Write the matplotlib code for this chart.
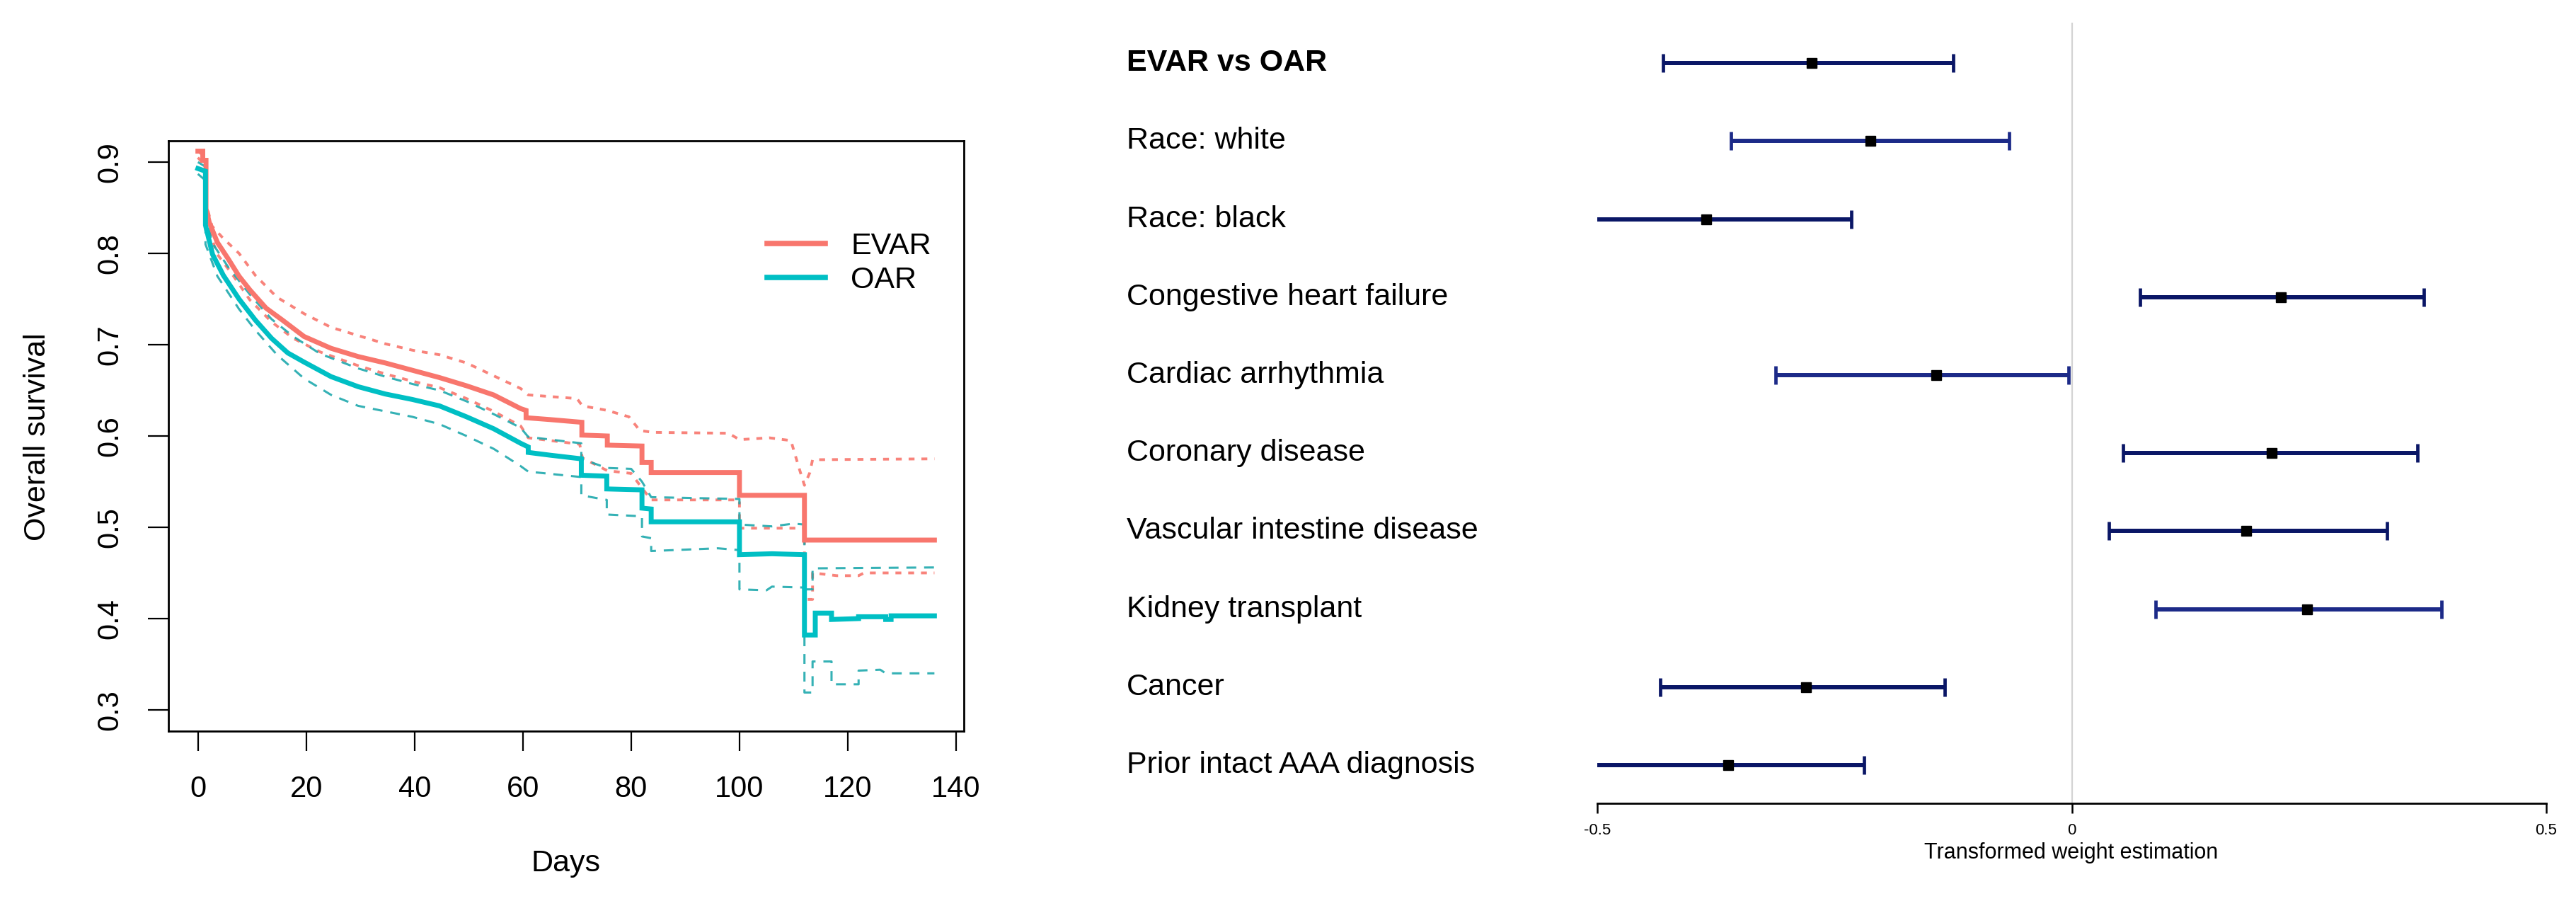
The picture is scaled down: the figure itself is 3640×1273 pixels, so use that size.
import matplotlib
matplotlib.use('Agg')
import matplotlib.pyplot as plt
from matplotlib.transforms import blended_transform_factory

plt.rcParams['font.family'] = ['Liberation Sans', 'DejaVu Sans']
plt.rcParams['lines.scale_dashes'] = False

W, H, DPI = 3640, 1273, 100

# ---------------- Left panel data: weighted Kaplan-Meier curves (day, survival)
evar_curve = [(0, 0.912), (0.9, 0.912), (0.9, 0.902), (1.5, 0.902), (1.5, 0.849), (2.1, 0.834),
              (3.6, 0.812), (5.6, 0.794), (7.6, 0.775), (9.6, 0.760), (12.6, 0.740), (15.6, 0.727),
              (19.6, 0.709), (24.6, 0.696), (29.6, 0.687), (34.6, 0.680), (39.6, 0.672), (44.6, 0.664),
              (49.6, 0.655), (54.6, 0.645), (59.6, 0.630), (60.6, 0.628), (60.6, 0.620), (65, 0.618),
              (70.9, 0.615), (70.9, 0.601), (75.6, 0.600), (75.6, 0.590), (82, 0.589), (82, 0.571),
              (83.7, 0.571), (83.7, 0.560), (100, 0.560), (100, 0.535), (112, 0.535), (112, 0.486),
              (136, 0.486)]
evar_upper = [(0, 0.912), (1.5, 0.905), (1.5, 0.855), (2.6, 0.830), (4.6, 0.817), (7.6, 0.800),
              (10.6, 0.776), (14.6, 0.752), (19.6, 0.734), (24.6, 0.719), (29.6, 0.710), (34.6, 0.701),
              (39.6, 0.694), (44.6, 0.689), (49.6, 0.680), (54.6, 0.666), (59.6, 0.652), (61, 0.645),
              (70, 0.641), (71, 0.633), (75.6, 0.628), (79.6, 0.621), (81.6, 0.606), (84, 0.604),
              (98, 0.603), (100, 0.596), (105.5, 0.598), (109.5, 0.595), (111, 0.565), (112, 0.546),
              (113, 0.560), (113.5, 0.574), (136, 0.575)]
evar_lower = [(0, 0.905), (1.5, 0.895), (1.5, 0.834), (3.6, 0.799), (6.6, 0.775), (9.6, 0.749),
              (13.6, 0.725), (17.6, 0.707), (22.6, 0.692), (29.6, 0.677), (34.6, 0.668), (39.6, 0.660),
              (44.6, 0.653), (49.6, 0.641), (54.6, 0.627), (59.6, 0.611), (61, 0.598), (70.5, 0.591),
              (71, 0.576), (75.6, 0.562), (80, 0.559), (82, 0.543), (83.7, 0.530), (100, 0.530),
              (100, 0.499), (112, 0.499), (112, 0.421), (113.5, 0.421), (113.5, 0.450), (118, 0.447),
              (122, 0.447), (123, 0.450), (136, 0.450)]
oar_curve = [(0, 0.893), (1.4, 0.890), (1.4, 0.831), (2.7, 0.799), (4.7, 0.776), (7.6, 0.750),
             (10.6, 0.727), (13.6, 0.707), (16.6, 0.691), (19.6, 0.681), (24.6, 0.665), (29.6, 0.654),
             (34.6, 0.646), (39.6, 0.640), (44.6, 0.633), (49.6, 0.621), (54.6, 0.608), (59.6, 0.592),
             (61, 0.588), (61, 0.582), (65, 0.579), (70.8, 0.575), (70.8, 0.557), (75.5, 0.556),
             (75.5, 0.542), (82, 0.541), (82, 0.521), (83.7, 0.520), (83.7, 0.506), (100, 0.506),
             (100, 0.470), (106, 0.471), (112, 0.470), (112, 0.382), (114, 0.382), (114, 0.406),
             (117, 0.406), (117, 0.399), (122, 0.400), (122, 0.402), (127, 0.402), (127, 0.399),
             (128, 0.399), (128, 0.403), (136, 0.403)]
oar_upper = [(0, 0.900), (1.4, 0.895), (1.4, 0.840), (2.7, 0.811), (5.6, 0.785), (9.6, 0.755),
             (13.6, 0.728), (17.6, 0.709), (22.6, 0.690), (29.6, 0.674), (34.6, 0.665), (39.6, 0.657),
             (44.6, 0.650), (49.6, 0.638), (54.6, 0.624), (59.6, 0.609), (61, 0.599), (70.8, 0.592),
             (70.8, 0.575), (75.5, 0.565), (80, 0.564), (82, 0.550), (83.7, 0.533), (100, 0.531),
             (100, 0.503), (106, 0.501), (110, 0.504), (112, 0.503), (112, 0.432), (113.5, 0.432),
             (113.5, 0.455), (136, 0.456)]
oar_lower = [(0, 0.887), (1.4, 0.880), (1.4, 0.810), (3.6, 0.775), (7.6, 0.739), (10.6, 0.716),
             (14.6, 0.689), (19.6, 0.663), (24.6, 0.645), (29.6, 0.633), (34.6, 0.627), (39.6, 0.621),
             (44.6, 0.613), (49.6, 0.600), (54.6, 0.586), (59.6, 0.567), (61, 0.561), (70.8, 0.555),
             (70.8, 0.535), (75.5, 0.530), (75.5, 0.514), (82, 0.512), (82, 0.490), (83.7, 0.488),
             (83.7, 0.474), (92, 0.476), (96, 0.477), (100, 0.475), (100, 0.432), (105, 0.431),
             (106, 0.435), (112, 0.434), (112, 0.319), (113.5, 0.319), (113.5, 0.353), (117, 0.353),
             (117, 0.328), (122, 0.328), (122, 0.343), (126, 0.344), (127, 0.340), (136, 0.340)]

group_names = ['EVAR', 'OAR']
x_ticks = [0, 20, 40, 60, 80, 100, 120, 140]
y_ticks = [0.3, 0.4, 0.5, 0.6, 0.7, 0.8, 0.9]

# ---------------- Right panel data: forest plot
forest_labels = ['EVAR vs OAR', 'Race: white', 'Race: black', 'Congestive heart failure',
                 'Cardiac arrhythmia', 'Coronary disease', 'Vascular intestine disease',
                 'Kidney transplant', 'Cancer', 'Prior intact AAA diagnosis']
forest_est = [-0.274, -0.212, -0.385, 0.220, -0.143, 0.211, 0.184, 0.248, -0.280, -0.362]
forest_lo = [-0.431, -0.359, -0.538, 0.072, -0.312, 0.054, 0.039, 0.088, -0.434, -0.514]
forest_hi = [-0.125, -0.066, -0.232, 0.371, -0.003, 0.364, 0.332, 0.390, -0.134, -0.219]
forest_ticks = [-0.5, 0, 0.5]
forest_ticklabels = ['-0.5', '0', '0.5']

C_EVAR = '#F8766D'
C_OAR = '#00BFC4'

fig = plt.figure(figsize=(W / DPI, H / DPI), dpi=DPI)

def fx(px):
    return px / W

def fy(py):
    return 1 - py / H

# ---------------- Left axes
L, R, T, B = 238, 1362, 199, 1033
ax1 = fig.add_axes([fx(L), fy(B), (R - L) / W, (B - T) / H])
ax1.set_xlim(-5.44, 141.44)
ax1.set_ylim(0.2767, 0.9233)

def xy(pts):
    return [p[0] for p in pts], [p[1] for p in pts]

x, y = xy(evar_upper)
ax1.plot(x, y, color=C_EVAR, lw=2.8, dashes=(6, 7), alpha=0.9)
x, y = xy(evar_lower)
ax1.plot(x, y, color=C_EVAR, lw=2.8, dashes=(6, 7), alpha=0.9)
x, y = xy(oar_upper)
ax1.plot(x, y, color='#1fa9ad', lw=2.2, dashes=(10, 8), alpha=0.9)
x, y = xy(oar_lower)
ax1.plot(x, y, color='#1fa9ad', lw=2.2, dashes=(10, 8), alpha=0.9)
x, y = xy(evar_curve)
ax1.plot(x, y, color=C_EVAR, lw=5.0, solid_joinstyle='miter', label=group_names[0])
x, y = xy(oar_curve)
ax1.plot(x, y, color=C_OAR, lw=5.0, solid_joinstyle='miter', label=group_names[1])

ax1.set_xticks(x_ticks)
ax1.set_xticklabels([str(v) for v in x_ticks], fontsize=30)
ax1.set_yticks(y_ticks)
ax1.set_yticklabels([f'{v:.1f}' for v in y_ticks], fontsize=30, rotation=90, va='center')
ax1.tick_params(axis='x', direction='out', length=20, width=1.6, pad=25)
ax1.tick_params(axis='y', direction='out', length=21, width=1.6, pad=24)
for s in ax1.spines.values():
    s.set_linewidth(2.0)

leg = ax1.legend(loc='center left', bbox_to_anchor=(fx(1084), fy(372)),
                 bbox_transform=fig.transFigure, frameon=False, fontsize=31,
                 handlelength=1.9, handletextpad=0.85, labelspacing=0.2,
                 borderpad=0, borderaxespad=0)
for line in leg.get_lines():
    line.set_linewidth(5.5)

fig.text(fx(800), fy(1220), 'Days', fontsize=31, ha='center', va='center')
fig.text(fx(53), fy(617), 'Overall survival', fontsize=31, ha='center', va='center', rotation=90)

# ---------------- Right axes (forest plot)
RL, RR, RT, RB = 2257, 3598, 32, 1135
ax2 = fig.add_axes([fx(RL), fy(RB), (RR - RL) / W, (RB - RT) / H])
ax2.set_xlim(-0.5, 0.5)
ax2.set_ylim(0.51, 10.52)
for side in ['top', 'right', 'left']:
    ax2.spines[side].set_visible(False)
ax2.spines['bottom'].set_linewidth(2.0)
ax2.axvline(0, color='#d4d4d4', lw=1.6, zorder=0)

n = len(forest_labels)
ypos = [n - i for i in range(n)]
bar_colors = ['#0a1666', '#1c2a88', '#0a1666', '#0a1666', '#1c2a88',
              '#0a1666', '#0a1666', '#1c2a88', '#0a1666', '#0a1666']
for i in range(n):
    ax2.errorbar([forest_est[i]], [ypos[i]],
                 xerr=[[forest_est[i] - forest_lo[i]], [forest_hi[i] - forest_est[i]]],
                 fmt='none', ecolor=bar_colors[i], elinewidth=4.3, capsize=9.7, capthick=3.4)
ax2.plot(forest_est, ypos, linestyle='none', marker='s', markersize=10.2,
         color='black', zorder=5)

ax2.set_yticks([])
ax2.set_xticks(forest_ticks)
ax2.set_xticklabels(forest_ticklabels, fontsize=16)
ax2.tick_params(axis='x', direction='out', length=10, width=1.8, pad=10)

lab_tr = blended_transform_factory(fig.transFigure, ax2.transData)
for i, lab in enumerate(forest_labels):
    ax2.text(fx(1592), ypos[i], lab, transform=lab_tr, ha='left', va='center',
             fontsize=31, fontweight='bold' if i == 0 else 'normal', clip_on=False)

fig.text(fx(2927), fy(1205), 'Transformed weight estimation', fontsize=22,
         ha='center', va='center')

fig.savefig('out.png', dpi=DPI, facecolor='white')
